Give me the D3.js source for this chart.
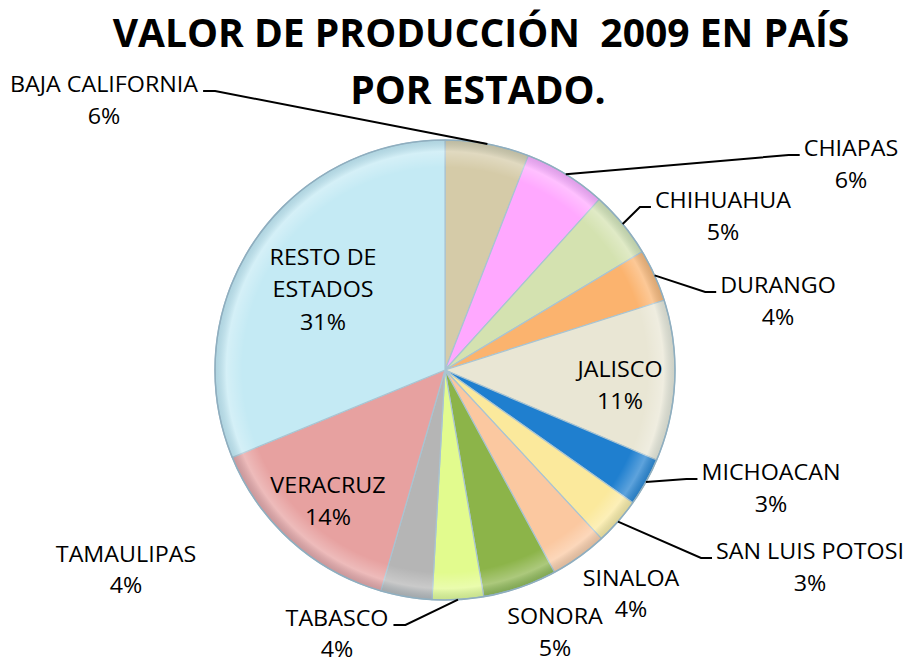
<!DOCTYPE html>
<html>
<head>
<meta charset="utf-8">
<script src="https://cdn.jsdelivr.net/npm/d3@7/dist/d3.min.js"></script>
<style>
  html, body { margin: 0; padding: 0; background: #ffffff; }
  svg { display: block; }
</style>
</head>
<body>
<svg id="chart" width="906" height="663"></svg>
<script>
// ---------------- data ----------------
const titleLines = ["VALOR DE PRODUCCIÓN  2009 EN PAÍS", "POR ESTADO."];
const categories = ["BAJA CALIFORNIA", "CHIAPAS", "CHIHUAHUA", "DURANGO", "JALISCO",
  "MICHOACAN", "SAN LUIS POTOSI", "SINALOA", "SONORA", "TABASCO", "TAMAULIPAS",
  "VERACRUZ", "RESTO DE ESTADOS"];
const values = [5.9, 5.8, 4.7, 3.7, 11.3, 3.4, 3.3, 4.0, 5.2, 3.6, 3.6, 14.3, 31.2];
const colors = ["#d5cba8", "#ffa8ff", "#d4e2b0", "#fbb36e", "#e9e6d4", "#1f7fcf",
  "#fbe99c", "#fbc8a0", "#8cb449", "#e2fb8e", "#b5b5b5", "#e7a1a0", "#c4eaf4"];
// label text lines (category split for display)
const labelLines = [["BAJA CALIFORNIA"], ["CHIAPAS"], ["CHIHUAHUA"], ["DURANGO"], ["JALISCO"],
  ["MICHOACAN"], ["SAN LUIS POTOSI"], ["SINALOA"], ["SONORA"], ["TABASCO"], ["TAMAULIPAS"],
  ["VERACRUZ"], ["RESTO DE", "ESTADOS"]];

// ---------------- layout ----------------
const W = 906, H = 663;
const cx = 445, cy = 370, R = 230;
// label anchor: centre x, first baseline y, leader side
const labelLayout = [
  {x: 104, y: 92, leader: "R"},
  {x: 851, y: 156, leader: "L"},
  {x: 723, y: 208, leader: "L"},
  {x: 778, y: 293, leader: "L"},
  {x: 620, y: 377, leader: null},
  {x: 771, y: 480, leader: "L"},
  {x: 810, y: 559, leader: "L"},
  {x: 631, y: 586, leader: null, gap: 31},
  {x: 555, y: 624, leader: null, gap: 32},
  {x: 337, y: 626, leader: "R", gap: 31},
  {x: 126, y: 562, leader: null, gap: 31},
  {x: 328, y: 493, leader: null},
  {x: 323, y: 265, leader: null}
];
const lineGap = 32.5;
const labelFont = "'Open Sans', 'Liberation Sans', sans-serif";
const labelSize = 21;
const hScale = 1.11;

const svg = d3.select("#chart");
const defs = svg.append("defs");

// bevel-like overlay
const rg = defs.append("radialGradient").attr("id", "bevel")
  .attr("cx", "50%").attr("cy", "50%").attr("r", "50%");
rg.append("stop").attr("offset", "0%").attr("stop-color", "#fff").attr("stop-opacity", 0);
rg.append("stop").attr("offset", "88%").attr("stop-color", "#fff").attr("stop-opacity", 0);
rg.append("stop").attr("offset", "95%").attr("stop-color", "#fff").attr("stop-opacity", 0.28);
rg.append("stop").attr("offset", "100%").attr("stop-color", "#4a6b80").attr("stop-opacity", 0.18);

// ---------------- title ----------------
const title = svg.append("g");
const t1 = title.append("text").attr("x", 481).attr("y", 47)
  .attr("text-anchor", "middle")
  .style("white-space", "pre")
  .style("font-family", labelFont).style("font-weight", 700)
  .style("font-size", "40px").attr("fill", "#000").text(titleLines[0]);
const targetW = 737;
const fs = 40 * targetW / t1.node().getComputedTextLength();
t1.style("font-size", fs + "px");
title.append("text").attr("x", 478).attr("y", 104)
  .attr("text-anchor", "middle")
  .style("font-family", labelFont).style("font-weight", 700)
  .style("font-size", fs + "px").attr("fill", "#000").text(titleLines[1]);

// ---------------- pie ----------------
const total = d3.sum(values);
const pie = d3.pie().sort(null).value(d => d)(values);
const arc = d3.arc().innerRadius(0).outerRadius(R);
const edgeArc = d3.arc().innerRadius(R).outerRadius(R);
const fmt = d3.format(".0%");

const g = svg.append("g").attr("transform", `translate(${cx},${cy})`);
g.selectAll("path.slice").data(pie).join("path")
  .attr("class", "slice")
  .attr("d", arc)
  .attr("fill", (d, i) => colors[i])
  .attr("stroke", "#a9c4d2")
  .attr("stroke-width", 1.2)
  .attr("stroke-linejoin", "round");

g.append("circle").attr("r", R).attr("fill", "url(#bevel)").attr("pointer-events", "none");
g.append("circle").attr("r", R).attr("fill", "none").attr("stroke", "#8faebf").attr("stroke-width", 1.5);

// ---------------- labels ----------------
const lg = svg.append("g");
pie.forEach((d, i) => {
  const L = labelLayout[i];
  const gap = L.gap || lineGap;
  const lines = labelLines[i].concat([fmt(values[i] / total)]);
  const tg = lg.append("g").attr("transform", `translate(${L.x},0) scale(${hScale},1)`);
  const t = tg.append("text")
    .attr("text-anchor", "middle")
    .style("font-family", labelFont)
    .style("font-size", labelSize + "px")
    .attr("fill", "#000");
  lines.forEach((s, k) => {
    t.append("tspan").attr("x", 0).attr("y", L.y + k * gap).text(s);
  });
  if (L.leader) {
    const first = t.select("tspan").node();
    const w = first.getComputedTextLength() * hScale;
    const yy = L.y - 1;
    const endX = L.leader === "L" ? L.x - w / 2 - 4 : L.x + w / 2 + 5;
    const elbowX = L.leader === "L" ? endX - 11 : endX + 12;
    const p = edgeArc.centroid(d);
    const sx = cx + p[0], sy = cy + p[1];
    lg.append("path")
      .attr("d", d3.line()([[endX, yy], [elbowX, yy], [sx, sy]]))
      .attr("fill", "none").attr("stroke", "#000").attr("stroke-width", 2);
  }
});
</script>
</body>
</html>
